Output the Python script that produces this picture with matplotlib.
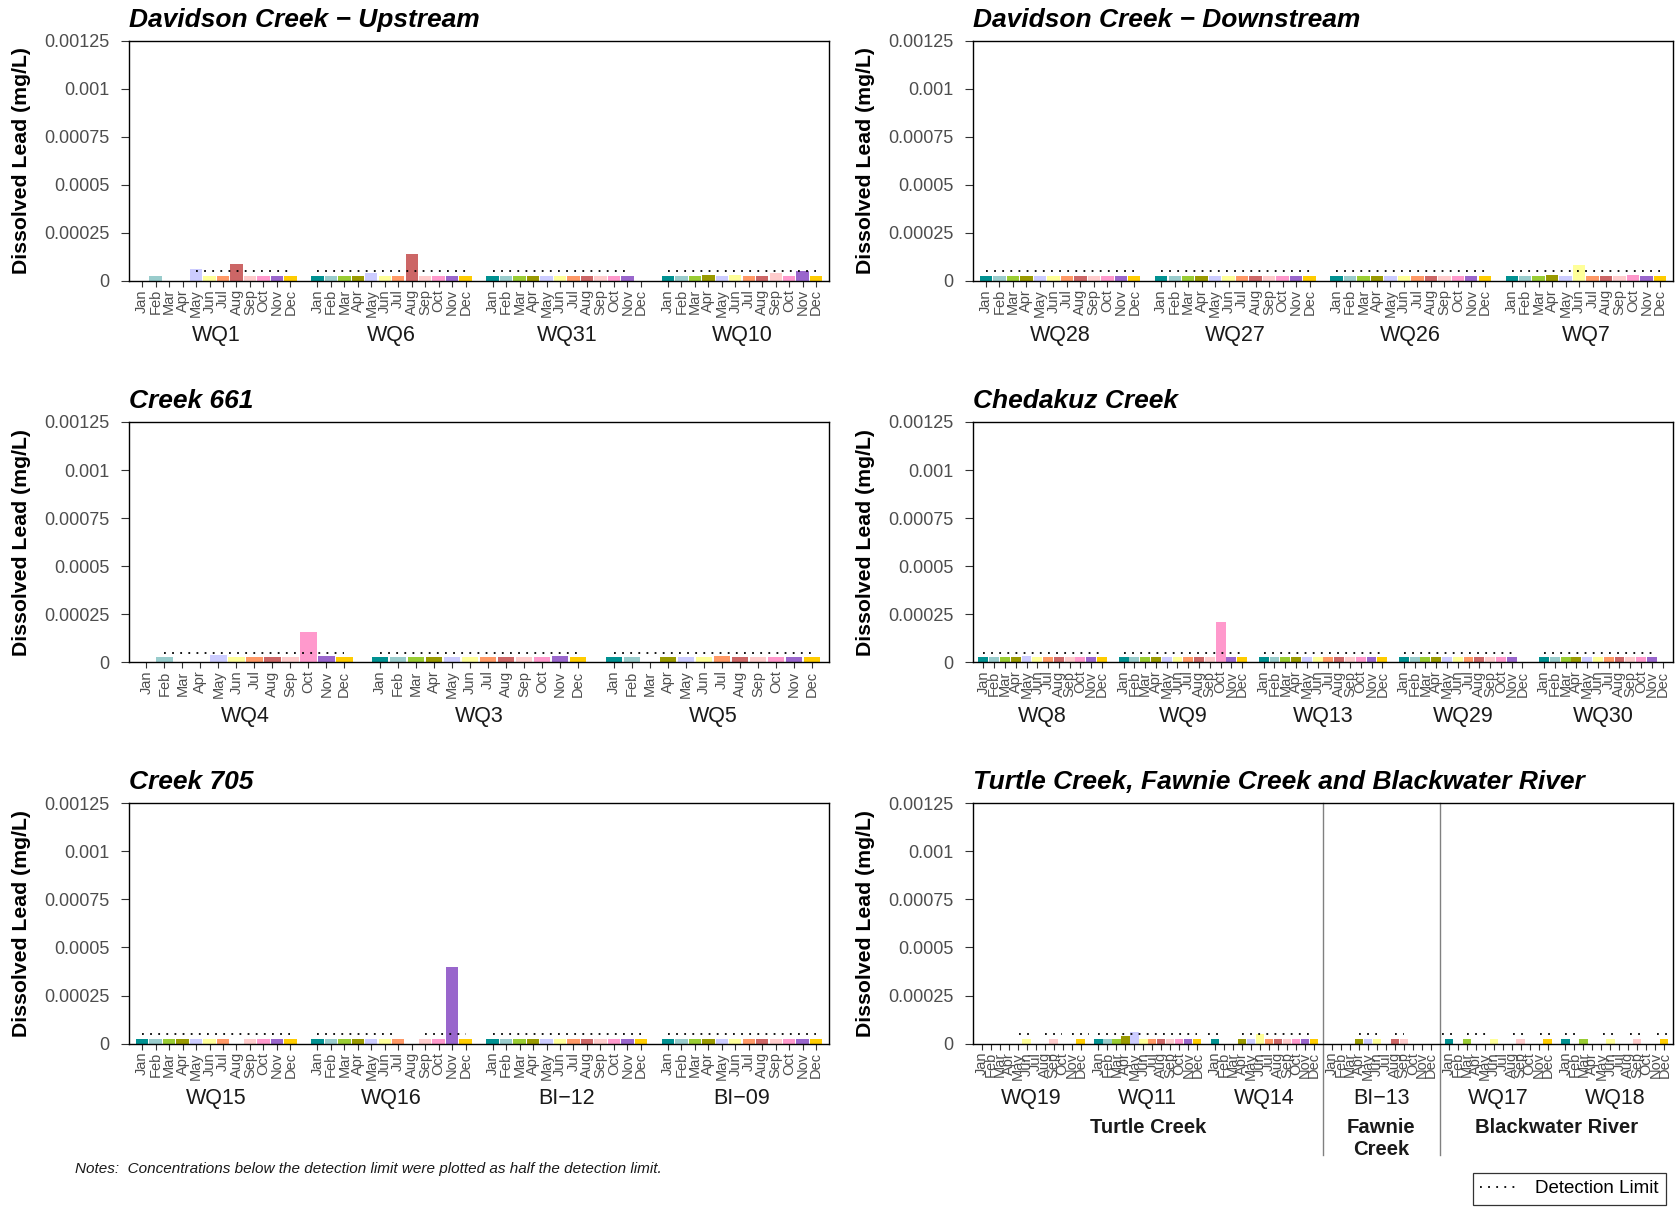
import numpy as np
import matplotlib.pyplot as plt
from matplotlib.lines import Line2D
from matplotlib.transforms import blended_transform_factory

plt.rcParams['font.family'] = ['Liberation Sans', 'DejaVu Sans']

months = ['Jan', 'Feb', 'Mar', 'Apr', 'May', 'Jun',
          'Jul', 'Aug', 'Sep', 'Oct', 'Nov', 'Dec']
month_colors = ['#009191', '#99CCCC', '#99CC33', '#999900', '#CCCCFF', '#FFFF99',
                '#FF9966', '#CC6666', '#FFCCCC', '#FF99CC', '#9966CC', '#FFCC00']

n = np.nan
h = 0.000025          # half detection limit
detection_limit = 0.00005

# Davidson Creek - Upstream
wq1 = [n, h, n, n, 0.00006, h, h, 0.00009, h, h, h, h]
wq6 = [h, h, h, h, 0.00004, h, h, 0.00014, h, h, h, h]
wq31 = [h, h, h, h, h, h, h, h, h, h, h, n]
wq10 = [h, h, h, 0.00003, h, 0.00003, h, h, 0.00004, h, 0.00005, h]
dl_wq1 = [(4, 11)]
dl_wq6 = [(0, 11)]
dl_wq31 = [(0, 10)]
dl_wq10 = [(0, 11)]

# Davidson Creek - Downstream
wq28 = [h, h, h, h, h, h, h, h, h, h, h, h]
wq27 = [h, h, h, h, h, h, h, h, h, h, h, h]
wq26 = [h, h, h, h, h, h, h, h, h, h, h, h]
wq7 = [h, h, h, 0.00003, h, 0.00008, h, h, h, 0.00003, h, h]
dl_wq28 = [(0, 11)]
dl_wq27 = [(0, 11)]
dl_wq26 = [(0, 11)]
dl_wq7 = [(0, 11)]

# Creek 661
wq4 = [n, h, n, n, 0.00004, h, h, 0.00003, h, 0.000155, 0.000035, h]
wq3 = [h, h, h, h, h, h, h, h, h, h, 0.000035, h]
wq5 = [h, h, n, h, h, 0.00003, 0.000035, h, h, h, h, h]
dl_wq4 = [(1, 11)]
dl_wq3 = [(0, 11)]
dl_wq5 = [(0, 11)]

# Chedakuz Creek
wq8 = [h, h, h, h, 0.000035, h, h, 0.00003, h, h, 0.00003, h]
wq9 = [h, h, h, h, 0.00003, h, h, h, h, 0.00021, h, h]
wq13 = [h, h, h, h, h, h, h, h, h, h, h, h]
wq29 = [h, h, h, h, h, h, h, h, h, h, h, n]
wq30 = [h, h, h, h, h, h, h, h, h, h, h, n]
dl_wq8 = [(0, 11)]
dl_wq9 = [(0, 11)]
dl_wq13 = [(0, 11)]
dl_wq29 = [(0, 10)]
dl_wq30 = [(0, 10)]

# Creek 705
wq15 = [h, h, h, h, h, h, h, n, h, h, h, h]
wq16 = [h, h, h, h, h, h, h, n, h, h, 0.0004, h]
bi12 = [h, h, h, h, h, h, h, h, h, h, h, h]
bi09 = [h, h, h, h, h, h, h, h, h, h, h, h]
dl_wq15 = [(0, 11)]
dl_wq16 = [(0, 6), (8, 11)]
dl_bi12 = [(0, 11)]
dl_bi09 = [(0, 11)]

# Turtle Creek, Fawnie Creek and Blackwater River
wq19 = [n, n, n, n, n, h, n, n, h, n, n, h]
wq11 = [h, h, h, 0.00004, 0.00006, h, h, h, h, h, h, h]
wq14 = [h, n, n, h, h, 0.00005, h, h, h, h, h, h]
bi13 = [n, n, n, h, h, h, n, h, h, n, n, n]
wq17 = [h, n, h, n, n, h, n, n, h, n, n, h]
wq18 = [h, n, h, n, n, h, n, n, h, n, n, h]
dl_wq19 = [(4.1, 5.9), (7.1, 8.9), (10.1, 11.9)]
dl_wq11 = [(0, 11)]
dl_wq14 = [(-0.8, 0.8), (3, 11)]
dl_bi13 = [(3, 5), (7, 8)]
dl_wq17 = [(-0.8, 0.8), (2, 4.5), (7.2, 8.8), (10.2, 11.8)]
dl_wq18 = [(0, 1.5), (4.2, 5.8), (7.2, 8.8), (10.2, 11.8)]

yticks = [0, 0.00025, 0.0005, 0.00075, 0.001, 0.00125]
ytick_labels = ['0', '0.00025', '0.0005', '0.00075', '0.001', '0.00125']

panels = [
    ('Davidson Creek \u2212 Upstream', ['WQ1', 'WQ6', 'WQ31', 'WQ10'],
     [wq1, wq6, wq31, wq10], [dl_wq1, dl_wq6, dl_wq31, dl_wq10]),
    ('Davidson Creek \u2212 Downstream', ['WQ28', 'WQ27', 'WQ26', 'WQ7'],
     [wq28, wq27, wq26, wq7], [dl_wq28, dl_wq27, dl_wq26, dl_wq7]),
    ('Creek 661', ['WQ4', 'WQ3', 'WQ5'],
     [wq4, wq3, wq5], [dl_wq4, dl_wq3, dl_wq5]),
    ('Chedakuz Creek', ['WQ8', 'WQ9', 'WQ13', 'WQ29', 'WQ30'],
     [wq8, wq9, wq13, wq29, wq30], [dl_wq8, dl_wq9, dl_wq13, dl_wq29, dl_wq30]),
    ('Creek 705', ['WQ15', 'WQ16', 'BI\u221212', 'BI\u221209'],
     [wq15, wq16, bi12, bi09], [dl_wq15, dl_wq16, dl_bi12, dl_bi09]),
    ('Turtle Creek, Fawnie Creek and Blackwater River',
     ['WQ19', 'WQ11', 'WQ14', 'BI\u221213', 'WQ17', 'WQ18'],
     [wq19, wq11, wq14, bi13, wq17, wq18],
     [dl_wq19, dl_wq11, dl_wq14, dl_bi13, dl_wq17, dl_wq18]),
]

river_groups = ['Turtle Creek', 'Fawnie\nCreek', 'Blackwater River']
river_group_sites = [(0, 2), (3, 3), (4, 5)]

DOTS = (0, (1, 3.5))
period = 13

fig = plt.figure(figsize=(16.75, 12.07), dpi=100)
lefts = [0.0772, 0.581]
bottoms = [0.7673, 0.4513, 0.1354]
w, hgt = 0.4177, 0.1991

axes = []
for k, (title, names, values, limits) in enumerate(panels):
    ax = fig.add_axes([lefts[k % 2], bottoms[k // 2], w, hgt])
    axes.append(ax)
    blend = blended_transform_factory(ax.transData, ax.transAxes)
    ticks, labels = [], []
    for i, (vals, segs) in enumerate(zip(values, limits)):
        x0 = i * period
        vals = np.array(vals, dtype=float)
        xs = x0 + np.arange(12)
        ok = ~np.isnan(vals)
        ax.bar(xs[ok], vals[ok], width=0.92, color=np.array(month_colors)[ok],
               linewidth=0, zorder=2)
        for a, b in segs:
            ax.plot([x0 + a, x0 + b], [detection_limit, detection_limit],
                    color='black', lw=1.3, linestyle=DOTS, zorder=3)
        ticks.extend(xs)
        labels.extend(months)
        ax.text(x0 + 5.5, -0.227, names[i], transform=blend, ha='center',
                va='center', fontsize=15.5, color='#1a1a1a')
    nsites = len(names)
    ax.set_xlim(-0.95, nsites * period - 1.05)
    ax.set_ylim(0, 0.00125)
    ax.set_yticks(yticks)
    ax.set_yticklabels(ytick_labels)
    ax.set_xticks(ticks)
    ax.set_xticklabels(labels, rotation=90)
    ax.tick_params(axis='x', labelsize=10.5, labelcolor='#4d4d4d', length=4,
                   width=0.8, color='#333333', pad=2)
    ax.tick_params(axis='y', labelsize=13, labelcolor='#4d4d4d', length=5.5,
                   width=0.8, color='#333333', pad=8.5)
    for sp in ax.spines.values():
        sp.set_linewidth(1.0)
        sp.set_color('black')
    ax.set_ylabel('Dissolved Lead (mg/L)', fontsize=15.3, fontweight='bold')
    ax.yaxis.set_label_coords(-0.141, 0.5)
    ax.set_title(title, loc='left', fontsize=19, fontweight='bold',
                 style='italic', pad=10)

# group labels and separators in the last panel
ax = axes[5]
blend = blended_transform_factory(ax.transData, ax.transAxes)
for name, (a, b) in zip(river_groups, river_group_sites):
    ax.text((a * period + b * period + 11) / 2, -0.31, name, transform=blend,
            ha='center', va='top', fontsize=14.6, fontweight='bold',
            color='#1a1a1a', linespacing=1.2)
for b in [3, 4]:
    ax.plot([b * period - 1, b * period - 1], [1, -0.463], transform=blend,
            color='#808080', lw=1.0, clip_on=False, zorder=1)

fig.text(0.0448, 1 - 1169 / 1207,
         'Notes:  Concentrations below the detection limit were plotted as half the detection limit.',
         style='italic', fontsize=11.0, va='center', color='#1a1a1a')

handle = Line2D([], [], color='black', lw=1.3, linestyle=DOTS)
leg = fig.legend([handle], ['Detection Limit'], loc='lower right',
                 bbox_to_anchor=(1.0, -0.006), fontsize=13.5, frameon=True,
                 fancybox=False, edgecolor='black', handlelength=2.1,
                 borderpad=0.4)
leg.get_frame().set_linewidth(0.9)

fig.savefig('out.png', dpi=100)
